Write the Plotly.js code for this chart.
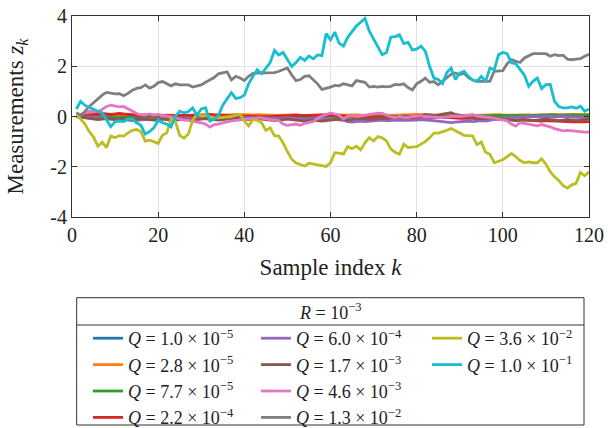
<!DOCTYPE html>
<html>
<head>
<meta charset="utf-8">
<script src="https://cdn.plot.ly/plotly-3.0.1.min.js"></script>
<style>html,body{margin:0;padding:0;background:#fff;}#chart{width:608px;height:428px;}</style>
</head>
<body>
<div id="chart"></div>
<script>
// Sample index k = 1..120
const kIndex = Array.from({length: 120}, (_, i) => i + 1);

const qLabels = [
  "<i>Q</i> = 1.0 × 10<sup>−5</sup>",
  "<i>Q</i> = 2.8 × 10<sup>−5</sup>",
  "<i>Q</i> = 7.7 × 10<sup>−5</sup>",
  "<i>Q</i> = 2.2 × 10<sup>−4</sup>",
  "<i>Q</i> = 6.0 × 10<sup>−4</sup>",
  "<i>Q</i> = 1.7 × 10<sup>−3</sup>",
  "<i>Q</i> = 4.6 × 10<sup>−3</sup>",
  "<i>Q</i> = 1.3 × 10<sup>−2</sup>",
  "<i>Q</i> = 3.6 × 10<sup>−2</sup>",
  "<i>Q</i> = 1.0 × 10<sup>−1</sup>"
];
const qColors = ["#1f77b4","#ff7f0e","#2ca02c","#d62728","#9467bd","#8c564b","#e377c2","#7f7f7f","#bcbd22","#17becf"];

const zQ1 = [0.0,0.0,0.01,0.0,-0.01,0.0,0.01,0.0,0.0,0.01,
  0.01,0.02,0.01,0.0,0.01,0.02,0.01,0.0,0.01,0.02,
  0.02,0.01,0.0,0.01,0.0,-0.01,0.0,0.01,0.02,0.01,
  0.0,0.01,0.02,0.01,0.0,-0.01,0.0,0.01,0.0,-0.01,
  -0.02,-0.01,0.0,0.01,0.0,-0.01,-0.02,-0.01,0.0,0.01,
  0.0,0.01,0.02,0.01,0.0,0.01,0.0,-0.01,0.0,0.01,
  0.02,0.01,0.0,0.01,0.02,0.03,0.02,0.01,0.02,0.01,
  0.0,0.01,0.02,0.01,0.0,0.01,0.02,0.03,0.02,0.01,
  0.02,0.01,0.0,0.01,0.02,0.01,0.0,-0.01,0.0,0.01,
  0.02,0.03,0.02,0.01,0.02,0.03,0.04,0.03,0.02,0.03,
  0.04,0.03,0.02,0.03,0.02,0.01,0.02,0.03,0.02,0.01,
  0.02,0.03,0.02,0.01,0.0,0.01,0.02,0.01,0.0,0.01];

const zQ2 = [0.0,0.01,0.02,0.01,0.02,0.03,0.02,0.03,0.04,0.03,
  0.02,0.03,0.04,0.05,0.04,0.03,0.04,0.05,0.06,0.05,
  0.04,0.05,0.06,0.05,0.04,0.05,0.04,0.03,0.04,0.05,
  0.06,0.05,0.06,0.07,0.06,0.05,0.06,0.08,0.07,0.06,
  0.05,0.06,0.07,0.06,0.05,0.06,0.05,0.04,0.05,0.06,
  0.07,0.06,0.05,0.04,0.05,0.04,0.03,0.04,0.05,0.04,
  0.05,0.06,0.05,0.06,0.07,0.06,0.05,0.04,0.05,0.04,
  0.05,0.06,0.05,0.04,0.05,0.06,0.07,0.06,0.07,0.08,
  0.07,0.06,0.05,0.06,0.05,0.04,0.05,0.06,0.05,0.04,
  0.05,0.06,0.05,0.04,0.05,0.06,0.07,0.08,0.07,0.06,
  0.05,0.06,0.05,0.06,0.07,0.06,0.05,0.06,0.07,0.06,
  0.07,0.08,0.07,0.06,0.07,0.08,0.07,0.06,0.07,0.08];

const zQ3 = [0.0,0.0,-0.01,-0.02,-0.02,-0.03,-0.03,-0.02,-0.03,-0.04,
  -0.04,-0.05,-0.04,-0.05,-0.06,-0.05,-0.04,-0.05,-0.06,-0.05,
  -0.04,-0.05,-0.04,-0.03,-0.04,-0.05,-0.04,-0.03,-0.02,-0.03,
  -0.02,-0.01,-0.02,-0.03,-0.02,-0.01,0.0,-0.01,-0.02,-0.01,
  0.0,-0.01,-0.02,-0.03,-0.04,-0.03,-0.02,-0.03,-0.04,-0.03,
  -0.02,-0.03,-0.04,-0.05,-0.04,-0.03,-0.04,-0.05,-0.04,-0.03,
  -0.02,-0.03,-0.04,-0.03,-0.02,-0.03,-0.02,-0.01,-0.02,-0.03,
  -0.02,-0.01,-0.02,-0.03,-0.02,-0.01,0.0,-0.01,-0.02,-0.01,
  0.0,-0.01,0.0,0.01,0.0,-0.01,0.0,0.01,0.02,0.01,
  0.02,0.03,0.02,0.01,0.02,0.03,0.02,0.03,0.04,0.03,
  0.02,0.03,0.04,0.03,0.02,0.03,0.04,0.05,0.04,0.05,
  0.06,0.05,0.04,0.05,0.06,0.05,0.04,0.05,0.06,0.05];

const zQ4 = [0.0,0.03,0.05,0.07,0.08,0.1,0.12,0.1,0.08,0.1,
  0.12,0.1,0.08,0.06,0.05,0.04,0.06,0.05,0.04,0.03,
  0.04,0.05,0.03,0.02,0.04,0.05,0.06,0.05,0.04,0.06,
  0.07,0.08,0.06,0.05,0.04,0.03,0.02,0.03,0.02,0.0,
  0.01,0.02,0.0,-0.02,-0.01,0.0,0.02,0.03,0.04,0.05,
  0.06,0.05,0.04,0.03,0.04,0.05,0.06,0.08,0.07,0.05,
  0.04,0.03,0.02,0.0,-0.02,-0.01,0.0,-0.02,-0.03,-0.02,
  -0.01,0.0,-0.02,-0.03,-0.04,-0.02,-0.01,-0.03,-0.05,-0.04,
  -0.03,-0.02,-0.04,-0.05,-0.06,-0.04,-0.03,-0.05,-0.06,-0.07,
  -0.06,-0.05,-0.07,-0.08,-0.1,-0.09,-0.08,-0.1,-0.11,-0.12,
  -0.12,-0.14,-0.15,-0.13,-0.14,-0.16,-0.15,-0.17,-0.18,-0.16,
  -0.17,-0.19,-0.18,-0.2,-0.19,-0.21,-0.2,-0.22,-0.21,-0.2];

const zQ5 = [0.0,-0.02,-0.03,-0.02,-0.04,-0.06,-0.05,-0.07,-0.1,-0.12,
  -0.1,-0.12,-0.14,-0.16,-0.15,-0.13,-0.12,-0.1,-0.12,-0.1,
  -0.08,-0.1,-0.12,-0.1,-0.08,-0.06,-0.08,-0.1,-0.08,-0.06,
  -0.08,-0.1,-0.12,-0.1,-0.08,-0.06,-0.05,-0.04,-0.05,-0.06,
  -0.05,-0.04,-0.06,-0.08,-0.06,-0.05,-0.07,-0.08,-0.06,-0.05,
  -0.06,-0.08,-0.1,-0.12,-0.1,-0.08,-0.06,-0.08,-0.1,-0.08,
  -0.1,-0.12,-0.15,-0.2,-0.22,-0.2,-0.18,-0.2,-0.18,-0.16,
  -0.15,-0.14,-0.16,-0.15,-0.13,-0.12,-0.14,-0.15,-0.16,-0.14,
  -0.12,-0.13,-0.15,-0.16,-0.18,-0.2,-0.22,-0.24,-0.22,-0.2,
  -0.2,-0.18,-0.2,-0.18,-0.16,-0.18,-0.14,-0.1,-0.08,-0.06,
  -0.05,-0.04,-0.05,-0.04,-0.03,-0.02,0.0,0.02,0.0,0.02,
  0.0,-0.02,0.0,0.02,0.0,-0.02,-0.03,-0.02,-0.04,-0.03];

const zQ6 = [0.0,-0.03,-0.06,-0.08,-0.1,-0.12,-0.1,-0.08,-0.1,-0.12,
  -0.1,-0.08,-0.1,-0.12,-0.1,-0.08,-0.1,-0.12,-0.14,-0.12,
  -0.1,-0.12,-0.15,-0.14,-0.12,-0.1,-0.12,-0.14,-0.12,-0.1,
  -0.08,-0.1,-0.12,-0.14,-0.12,-0.1,-0.08,-0.06,-0.08,-0.1,
  -0.12,-0.1,-0.08,-0.1,-0.12,-0.14,-0.16,-0.14,-0.12,-0.1,
  -0.12,-0.14,-0.16,-0.18,-0.16,-0.14,-0.16,-0.18,-0.16,-0.14,
  -0.12,-0.1,-0.12,-0.14,-0.12,-0.1,-0.08,-0.1,-0.12,-0.1,
  -0.08,-0.06,-0.08,-0.04,-0.02,0.0,0.02,0.0,-0.02,0.02,
  0.05,0.08,0.06,0.04,0.06,0.1,0.12,0.15,0.08,0.04,
  0.02,-0.02,-0.04,-0.06,-0.08,-0.06,-0.04,-0.06,-0.08,-0.1,
  -0.12,-0.14,-0.16,-0.14,-0.12,-0.14,-0.16,-0.14,-0.12,-0.1,
  -0.12,-0.14,-0.16,-0.14,-0.12,-0.14,-0.16,-0.14,-0.12,-0.1];

const zQ7 = [0.02,0.08,0.15,0.2,0.2,0.2,0.28,0.4,0.45,0.42,
  0.38,0.4,0.3,0.22,0.12,0.07,0.06,0.1,0.05,0.08,
  0.03,0.02,-0.02,-0.07,-0.12,-0.14,-0.15,-0.18,-0.22,-0.25,
  -0.3,-0.42,-0.32,-0.3,-0.25,-0.2,-0.17,-0.15,-0.14,-0.12,
  -0.1,-0.08,-0.05,-0.06,-0.1,-0.12,-0.14,-0.16,-0.3,-0.35,
  -0.32,-0.3,-0.35,-0.27,-0.23,-0.2,-0.08,0.02,0.08,0.14,
  0.1,0.05,-0.1,0.02,0.03,0.0,0.02,0.04,0.06,0.1,
  0.13,0.12,0.05,-0.02,-0.04,0.0,-0.03,-0.04,0.0,0.02,
  0.03,0.0,-0.02,-0.05,-0.04,-0.04,-0.03,0.0,0.02,0.0,
  0.03,0.06,0.07,0.02,-0.01,-0.02,-0.04,-0.06,-0.1,-0.13,
  -0.17,-0.3,-0.38,-0.24,-0.28,-0.3,-0.33,-0.37,-0.32,-0.35,
  -0.41,-0.48,-0.53,-0.57,-0.55,-0.56,-0.58,-0.6,-0.62,-0.62];

const zQ8 = [0.15,0.05,0.2,0.4,0.55,0.7,0.85,0.96,0.92,0.9,
  0.91,0.83,0.92,1.05,1.12,1.15,1.26,1.13,1.2,1.35,
  1.39,1.3,1.22,1.3,1.26,1.26,1.26,1.17,1.2,1.26,
  1.36,1.45,1.55,1.7,1.75,1.78,1.46,1.6,1.53,1.43,
  1.6,1.72,1.73,1.74,1.75,1.75,1.75,1.8,1.85,1.93,
  1.65,1.43,1.47,1.6,1.62,1.46,1.3,1.08,1.12,1.17,
  1.24,1.22,1.3,1.25,1.22,1.43,1.38,1.36,1.17,1.2,
  1.17,1.2,1.18,1.2,1.28,1.26,1.3,1.15,1.06,1.3,
  1.4,1.53,1.36,1.39,1.26,1.4,1.55,1.68,1.73,1.66,
  1.72,1.55,1.45,1.4,1.4,1.4,1.4,1.8,1.8,1.82,
  2.1,2.26,2.2,2.15,2.33,2.42,2.5,2.5,2.5,2.5,
  2.4,2.46,2.42,2.44,2.28,2.26,2.28,2.3,2.4,2.48];

const zQ9 = [0.05,-0.1,-0.3,-0.6,-0.82,-1.18,-1.02,-1.24,-0.78,-0.84,
  -0.76,-0.78,-0.65,-0.55,-0.52,-0.6,-0.98,-0.94,-1.0,-1.07,
  -0.75,-0.65,-0.1,-0.2,-0.75,-0.86,-0.7,-0.15,0.1,0.02,
  0.04,0.0,-0.05,-0.05,-0.04,-0.02,0.0,0.05,0.08,-0.18,
  -0.38,-0.12,-0.15,-0.25,-0.55,-0.45,-0.76,-0.78,-1.05,-1.4,
  -1.7,-1.85,-1.92,-1.97,-1.86,-1.9,-1.94,-1.97,-1.99,-1.84,
  -1.44,-1.46,-1.5,-1.2,-1.28,-1.18,-1.33,-1.05,-0.84,-0.97,
  -0.8,-0.85,-0.97,-1.3,-1.42,-1.5,-1.1,-1.24,-1.22,-1.2,
  -1.1,-1.0,-0.85,-0.66,-0.66,-0.62,-0.55,-0.48,-0.57,-0.68,
  -0.75,-0.76,-0.78,-1.12,-1.02,-1.42,-1.5,-1.84,-1.77,-1.72,
  -1.6,-1.47,-1.6,-1.75,-1.84,-1.81,-1.84,-1.84,-1.68,-1.9,
  -2.2,-2.4,-2.55,-2.75,-2.85,-2.72,-2.66,-2.23,-2.36,-2.2];

const zQ10 = [0.3,0.6,0.45,0.35,0.3,0.2,0.15,-0.1,-0.4,-0.2,
  -0.18,-0.2,-0.1,-0.1,-0.25,-0.35,-0.7,-0.6,-0.45,-0.15,
  -0.25,-0.3,-0.41,0.0,0.21,0.15,0.2,0.34,0.05,0.3,
  0.35,-0.18,-0.1,0.05,0.45,0.7,0.95,0.72,0.75,0.85,
  1.3,1.6,1.86,1.7,1.95,2.15,2.63,2.45,2.55,2.25,
  1.99,2.15,2.35,2.23,2.41,2.3,2.45,2.42,3.3,3.05,
  3.36,2.92,2.8,3.15,3.4,3.6,3.75,3.9,3.4,3.1,
  2.8,2.46,2.55,3.16,3.18,3.25,2.9,2.95,2.65,2.68,
  2.8,2.6,2.0,1.53,1.47,1.31,1.75,1.93,1.47,1.73,
  1.8,1.6,1.45,1.4,1.6,1.4,1.93,1.86,2.46,2.55,
  2.5,2.13,2.1,1.86,1.65,1.2,1.4,1.53,1.11,1.27,
  1.28,0.6,0.4,0.34,0.34,0.38,0.33,0.41,0.21,0.3];

const seriesZ = [zQ1,zQ2,zQ3,zQ4,zQ5,zQ6,zQ7,zQ8,zQ9,zQ10];
const legendOf = ["legend","legend","legend","legend","legend2","legend2","legend2","legend2","legend3","legend3"];

const yTickVals = [-4,-2,0,2,4];
const yTickText = ["-4","-2","0","2","4"];
const xTickVals = [0,20,40,60,80,100,120];

const FONT = "Liberation Serif, Times New Roman, serif";

const traces = seriesZ.map((z, i) => ({
  type: "scatter", mode: "lines",
  x: kIndex, y: z, name: qLabels[i],
  line: {color: qColors[i], width: 2.8},
  legend: legendOf[i]
}));

// px -> paper helpers for overlay positions
const L = 72, R = 19, T = 16, B = 211, W = 608, H = 428;
const pw = W - L - R, ph = H - T - B;
const px = v => (v - L) / pw;
const py = v => (H - B - v) / ph;

const legendCommon = {
  bgcolor: "rgba(0,0,0,0)", borderwidth: 0,
  font: {family: FONT, size: 18, color: "#222"},
  orientation: "v", xanchor: "left", yanchor: "top",
  tracegroupgap: 0, itemwidth: 30
};

const axisCommon = {
  automargin: false,
  showline: true, linecolor: "#333", linewidth: 1, mirror: "ticks",
  ticks: "inside", ticklen: 5, tickcolor: "#333",
  showgrid: true, gridcolor: "#e3e3e3", gridwidth: 1, zeroline: false,
  tickfont: {family: FONT, size: 20, color: "#222"}
};

const layout = {
  width: W, height: H,
  margin: {l: L, r: R, t: T, b: B, autoexpand: false},
  paper_bgcolor: "#fff", plot_bgcolor: "#fff",
  showlegend: true,
  font: {family: FONT},
  xaxis: Object.assign({}, axisCommon, {
    range: [0, 120], tickvals: xTickVals,
    title: {text: "Sample index <i>k</i>", font: {family: FONT, size: 23, color: "#222"}, standoff: 13}
  }),
  yaxis: Object.assign({}, axisCommon, {
    range: [-4, 4], tickvals: yTickVals, ticktext: yTickText,
    title: {text: "Measurements <i>z</i><sub><i>k</i></sub>", font: {family: FONT, size: 23, color: "#222"}, standoff: 20}
  }),
  legend: Object.assign({}, legendCommon, {x: px(88), y: py(320)}),
  legend2: Object.assign({}, legendCommon, {x: px(256), y: py(320)}),
  legend3: Object.assign({}, legendCommon, {x: px(427), y: py(320)}),
  shapes: [
    {type: "rect", xref: "paper", yref: "paper", x0: px(76.7), x1: px(584), y0: py(425), y1: py(297.7),
     line: {color: "#333", width: 1}, fillcolor: "rgba(0,0,0,0)"},
    {type: "line", xref: "paper", yref: "paper", x0: px(76.7), x1: px(584), y0: py(325), y1: py(325),
     line: {color: "#333", width: 1}}
  ],
  annotations: [
    {xref: "paper", yref: "paper", x: px(330), y: py(311), xanchor: "center", yanchor: "middle",
     text: "<i>R</i> = 10<sup>−3</sup>", showarrow: false, font: {family: FONT, size: 18, color: "#222"}}
  ]
};

Plotly.newPlot("chart", traces, layout, {displayModeBar: false, staticPlot: true});
</script>
</body>
</html>
